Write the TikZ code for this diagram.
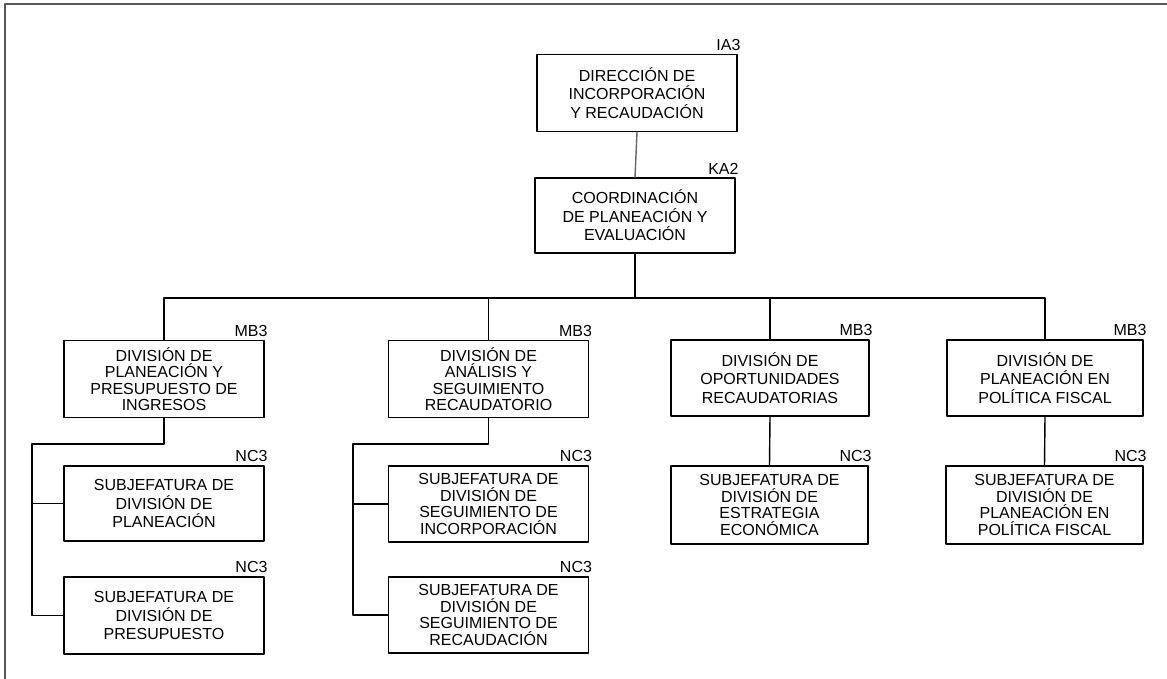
\documentclass[tikz,border=0pt]{standalone}
\usepackage{fontspec}
\setmainfont{Liberation Sans}
\begin{document}
\begin{tikzpicture}[x=1pt,y=-1pt,line cap=round,line join=round,
		box/.style={draw,line width=1.4pt,align=center,minimum width=200pt,minimum height=77pt,inner sep=2pt,font=\fontsize{16}{18.5}\selectfont},
		tall/.style={font=\fontsize{16}{16.5}\selectfont},
		lvl/.style={label={[anchor=south east,inner sep=0pt,xshift=3pt,yshift=3pt,font=\fontsize{16}{18}\selectfont]north east:#1}},
		link/.style={line width=1.4pt}]
	\useasboundingbox (0,0) rectangle (1167,679);
	% marco
	\draw[line width=1.8pt,black!65] (5,679) -- (5,4) -- (1167,4);
	% direccion y coordinacion
	\node[box,lvl=IA3] (dir) at (637,93) {DIRECCIÓN DE\\INCORPORACIÓN\\Y RECAUDACIÓN};
	\node[box,lvl=KA2,minimum height=75pt] (coord) at (635,215.5) {COORDINACIÓN\\DE PLANEACIÓN Y\\EVALUACIÓN};
	% divisiones
	\node[box,tall,lvl=MB3] (divA) at (164,379) {DIVISIÓN DE\\PLANEACIÓN Y\\PRESUPUESTO DE\\INGRESOS};
	\node[box,tall,lvl=MB3] (divB) at (488.5,379) {DIVISIÓN DE\\ANÁLISIS Y\\SEGUIMIENTO\\RECAUDATORIO};
	\node[box,lvl=MB3,minimum width=198pt,minimum height=76pt] (divC) at (770,378) {DIVISIÓN DE\\OPORTUNIDADES\\RECAUDATORIAS};
	\node[box,lvl=MB3,minimum width=196pt,minimum height=76pt] (divD) at (1045,378) {DIVISIÓN DE\\PLANEACIÓN EN\\POLÍTICA FISCAL};
	% subjefaturas
	\node[box,lvl=NC3,minimum height=75pt] (subA1) at (164,503.5) {SUBJEFATURA DE\\DIVISIÓN DE\\PLANEACIÓN};
	\node[box,lvl=NC3] (subA2) at (164,615.5) {SUBJEFATURA DE\\DIVISIÓN DE\\PRESUPUESTO};
	\node[box,tall,lvl=NC3,minimum height=76pt] (subB1) at (488.5,504) {SUBJEFATURA DE\\DIVISIÓN DE\\SEGUIMIENTO DE\\INCORPORACIÓN};
	\node[box,tall,lvl=NC3,minimum height=76pt] (subB2) at (488.5,615) {SUBJEFATURA DE\\DIVISIÓN DE\\SEGUIMIENTO DE\\RECAUDACIÓN};
	\node[box,tall,lvl=NC3,minimum width=197pt,minimum height=78pt] (subC) at (769.5,505) {SUBJEFATURA DE\\DIVISIÓN DE\\ESTRATEGIA\\ECONÓMICA};
	\node[box,tall,lvl=NC3,minimum width=197pt,minimum height=78pt] (subD) at (1044.5,505) {SUBJEFATURA DE\\DIVISIÓN DE\\PLANEACIÓN EN\\POLÍTICA FISCAL};
	% lineas
	\coordinate (bar) at (635,298);
	\coordinate (tA) at (32,444);
	\coordinate (tB) at (353,444);
	\draw[link,black!60] (dir.south) -- (coord.north);
	\draw[link] (coord.south) -- (bar);
	\draw[link] (divA.north) |- (bar) -| (divD.north);
	\draw[link] (divB.north) -- (divB.north |- bar);
	\draw[link] (divC.north) -- (divC.north |- bar);
	\draw[link] (divA.south) |- (tA) |- (subA2.west);
	\draw[link] (tA |- subA1.west) -- (subA1.west);
	\draw[link] (divB.south) |- (tB) |- (subB2.west);
	\draw[link] (tB |- subB1.west) -- (subB1.west);
	\draw[link] (divC.south) -- (subC.north);
	\draw[link] (divD.south) -- (subD.north);
\end{tikzpicture}
\end{document}
